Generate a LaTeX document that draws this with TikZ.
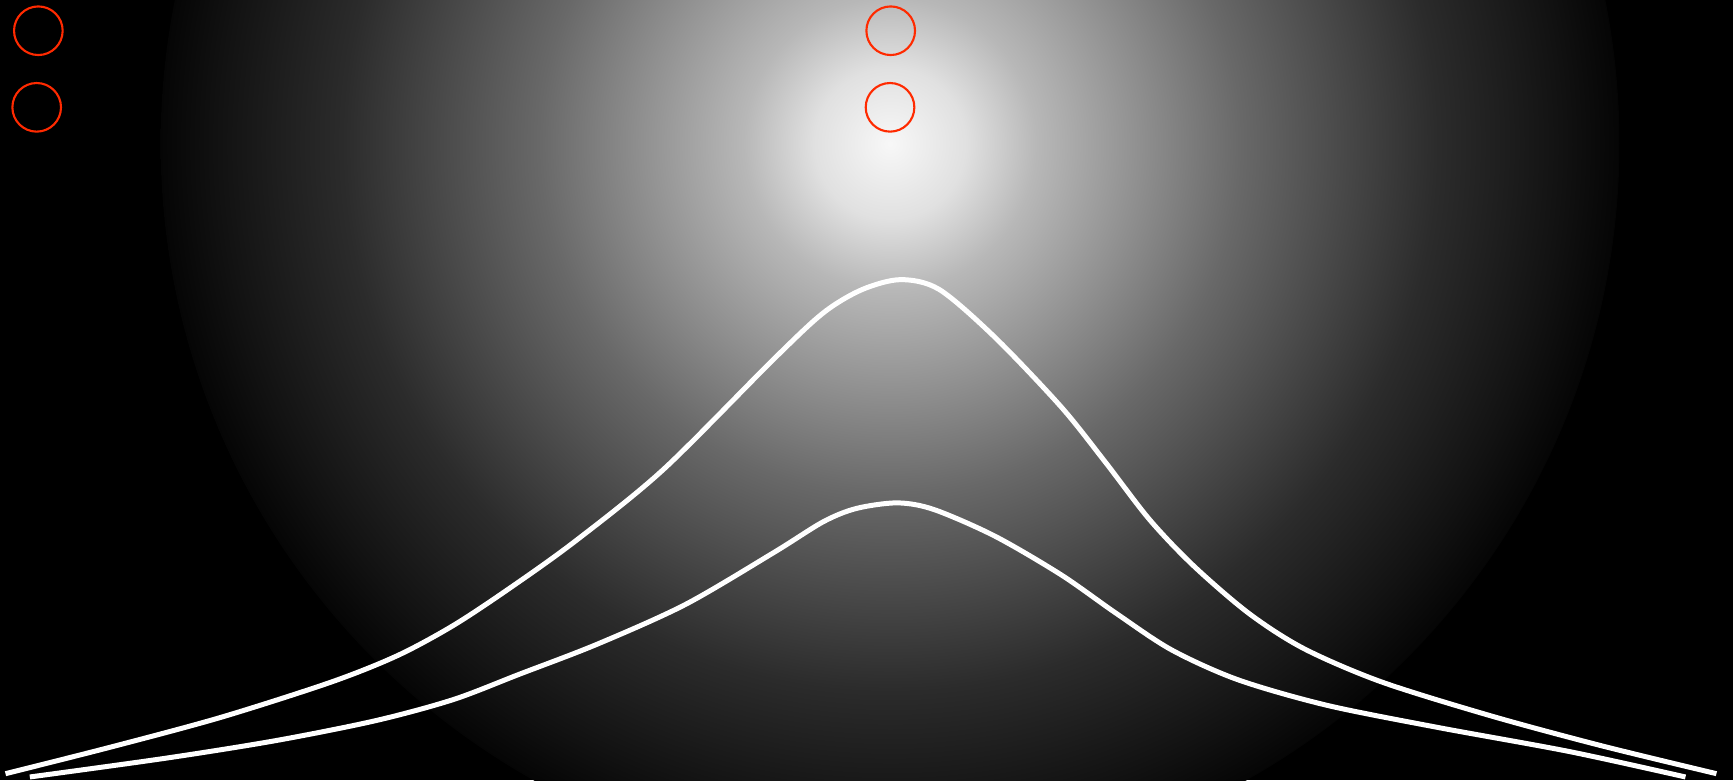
\documentclass[tikz,border=0pt]{standalone}
\usepackage{tikz}
\usetikzlibrary{shapes, positioning, calc}
\definecolor{glowred}{HTML}{FF2A00}
\definecolor{glowA}{gray}{0.97}
\definecolor{glowAB}{gray}{0.88}
\definecolor{glowB}{gray}{0.72}
\definecolor{glowC}{gray}{0.41}
\definecolor{glowD}{gray}{0.17}
\definecolor{glowE}{gray}{0.07}
\definecolor{glowF}{gray}{0.02}
\pgfdeclareradialshading{glow}{\pgfpoint{0bp}{0bp}}{color(0bp)=(glowA); color(2.6bp)=(glowAB); color(5bp)=(glowB); color(12bp)=(glowC); color(18.75bp)=(glowD); color(23bp)=(glowE); color(25bp)=(glowF); color(25.1bp)=(black); color(50bp)=(black)}

\begin{document}
\begin{tikzpicture}[
      x=0.011052cm, y=-0.011052cm,
      ring/.style={circle, draw=glowred, line width=0.6pt, minimum size=0.486cm, inner sep=0pt},
      curve/.style={white, line width=1.42pt, line cap=butt, line join=round}
    ]
      % canvas and glow
      \fill[black] (0,0) rectangle (1568,706);
      \useasboundingbox (0,0) rectangle (1568,706);
      \begin{scope}
        \clip (0,0) rectangle (1568,706);
        \shade[shading=glow] (805.3,130) circle (660);
      \end{scope}

      % rings
      \node[ring] (ringTL) at (34.7,27.8) {};
      \node[ring] (ringBL) at (33.2,97.1) {};
      \node[ring] (ringTC) at (805.9,27.8) {};
      \node[ring] (ringBC) at (805.3,97.1) {};

      % outer bell
      \draw[curve] plot[smooth, tension=0.5] coordinates {
        (5,700) (100,676) (200,649) (300,617) (360,593) (410,566) (460,533)
        (520,490) (600,425) (700,325) (745,283) (780,262) (815,253)
        (850,262) (900,305) (960,368) (1000,418) (1040,470) (1080,512)
        (1130,555) (1180,587) (1250,617) (1350,648) (1450,675) (1553,700)};

      % inner bell
      \draw[curve] plot[smooth, tension=0.5] coordinates {
        (27,703) (150,686) (250,670) (340,652) (410,633) (470,610) (540,583)
        (620,547) (700,500) (745,472) (775,460) (812,455) (845,461)
        (900,485) (960,520) (1010,555) (1060,588) (1120,615) (1200,638)
        (1300,658) (1420,680) (1525,703)};
    \end{tikzpicture}
\end{document}
